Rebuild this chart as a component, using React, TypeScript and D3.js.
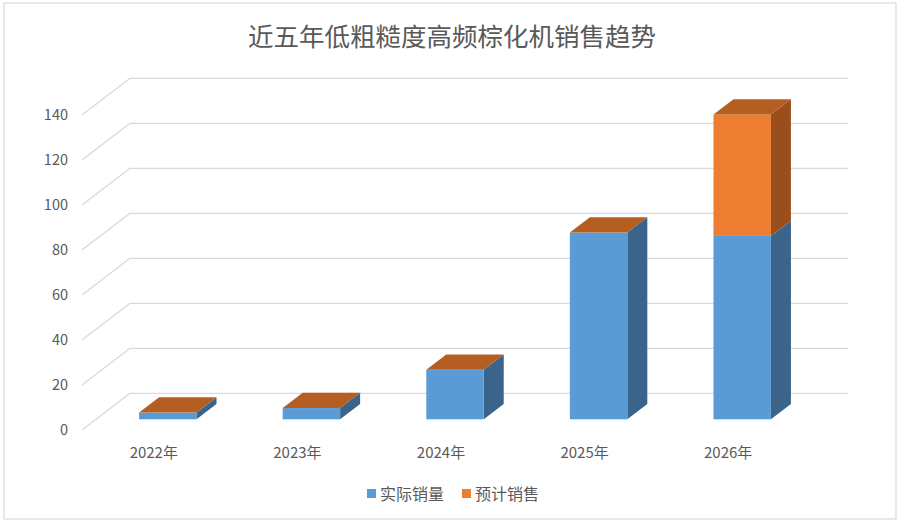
import React from "react";
import * as d3 from "d3";

const categories = ["2022年", "2023年", "2024年", "2025年", "2026年"];
const actualSales = [3, 5, 22, 83, 81.5];
const forecastSales = [0, 0, 0, 0, 54];
const yTicks = [0, 20, 40, 60, 80, 100, 120, 140];
const seriesNames = ["实际销量", "预计销售"];

const W = 900;
const H = 525;
const FONT = "'Noto Sans CJK SC', 'Noto Sans', sans-serif";

// depth of the 3d box (side wall), and where the bars sit inside it
const DX = 48;
const DY = -36.7;
const BAR_Z0 = 14 / 48;
const BAR_Z1 = 34 / 48;

const colors = {
  front: ["#5B9BD5", "#ED7D31"],
  side: ["#3A6489", "#9A4E1C"],
  top: ["#4A7FB0", "#B45E21"],
};

const off = (z: number) => [DX * z, DY * z];

export default function App() {
  const x = d3
    .scaleBand()
    .domain(categories)
    .range([82, 800])
    .paddingInner(0.6)
    .paddingOuter(0.3);
  const y = d3.scaleLinear().domain([0, 140]).range([430, 115]);

  const [fx, fy] = off(BAR_Z0);
  const [bx, by] = off(BAR_Z1);
  const [wx, wy] = off(1);
  const left = x.range()[0];
  const backRight = x.range()[1] + wx;

  const bars = categories.map((c, i) => {
    const segs = d3.stack().keys(["0", "1"])([{ 0: actualSales[i], 1: forecastSales[i] }]);
    const x0 = x(c)! + fx;
    const x1 = x0 + x.bandwidth();
    const ddx = bx - fx;
    const ddy = by - fy;
    const line = d3.line();
    return segs.map((s, k) => {
      const [v0, v1] = s[0];
      const yTop = y(v1) + fy;
      const yBot = y(v0) + fy;
      const side = line([
        [x1, yTop],
        [x1 + ddx, yTop + ddy],
        [x1 + ddx, yBot + ddy],
        [x1, yBot],
      ]) + "Z";
      const top = line([
        [x0, yTop],
        [x0 + ddx, yTop + ddy],
        [x1 + ddx, yTop + ddy],
        [x1, yTop],
      ]) + "Z";
      return (
        <g key={c + k}>
          {v1 > v0 && <path d={side} fill={colors.side[k]} />}
          {v1 > v0 && (
            <rect x={x0} y={yTop} width={x1 - x0} height={yBot - yTop} fill={colors.front[k]} />
          )}
          {k === segs.length - 1 && <path d={top} fill={colors.top[k]} />}
        </g>
      );
    });
  });

  return (
    <div style={{ position: "absolute", left: 0, top: 0, width: W, height: H, background: "#fff" }}>
      <svg width={W} height={H} style={{ display: "block", fontFamily: FONT }}>
        <rect x={4} y={3} width={892} height={516} fill="#fff" stroke="#D9D9D9" strokeWidth={1.2} />
        <text x={452} y={46} textAnchor="middle" fontSize={25.5} fill="#595959">
          近五年低粗糙度高频棕化机销售趋势
        </text>

        {/* gridlines: side wall diagonals + back wall */}
        {yTicks.map((t) => (
          <g key={t} stroke="#D9D9D9" strokeWidth={1.3} fill="none">
            <line x1={left} y1={y(t)} x2={left + wx} y2={y(t) + wy} />
            <line x1={left + wx} y1={y(t) + wy} x2={backRight} y2={y(t) + wy} />
          </g>
        ))}
        {yTicks.map((t) => (
          <text key={"l" + t} x={68} y={y(t) + 5} textAnchor="end" fontSize={14.5} fill="#595959">
            {t}
          </text>
        ))}

        {bars}

        {categories.map((c) => (
          <text key={c} x={x(c)! + x.bandwidth() / 2} y={458} textAnchor="middle" fontSize={15} fill="#595959">
            {c}
          </text>
        ))}

        {seriesNames.map((n, k) => (
          <g key={n} transform={`translate(${367 + k * 95},0)`}>
            <rect x={0} y={489} width={9} height={9} fill={colors.front[k]} />
            <text x={13} y={499.5} fontSize={16} fill="#595959">
              {n}
            </text>
          </g>
        ))}
      </svg>
    </div>
  );
}
